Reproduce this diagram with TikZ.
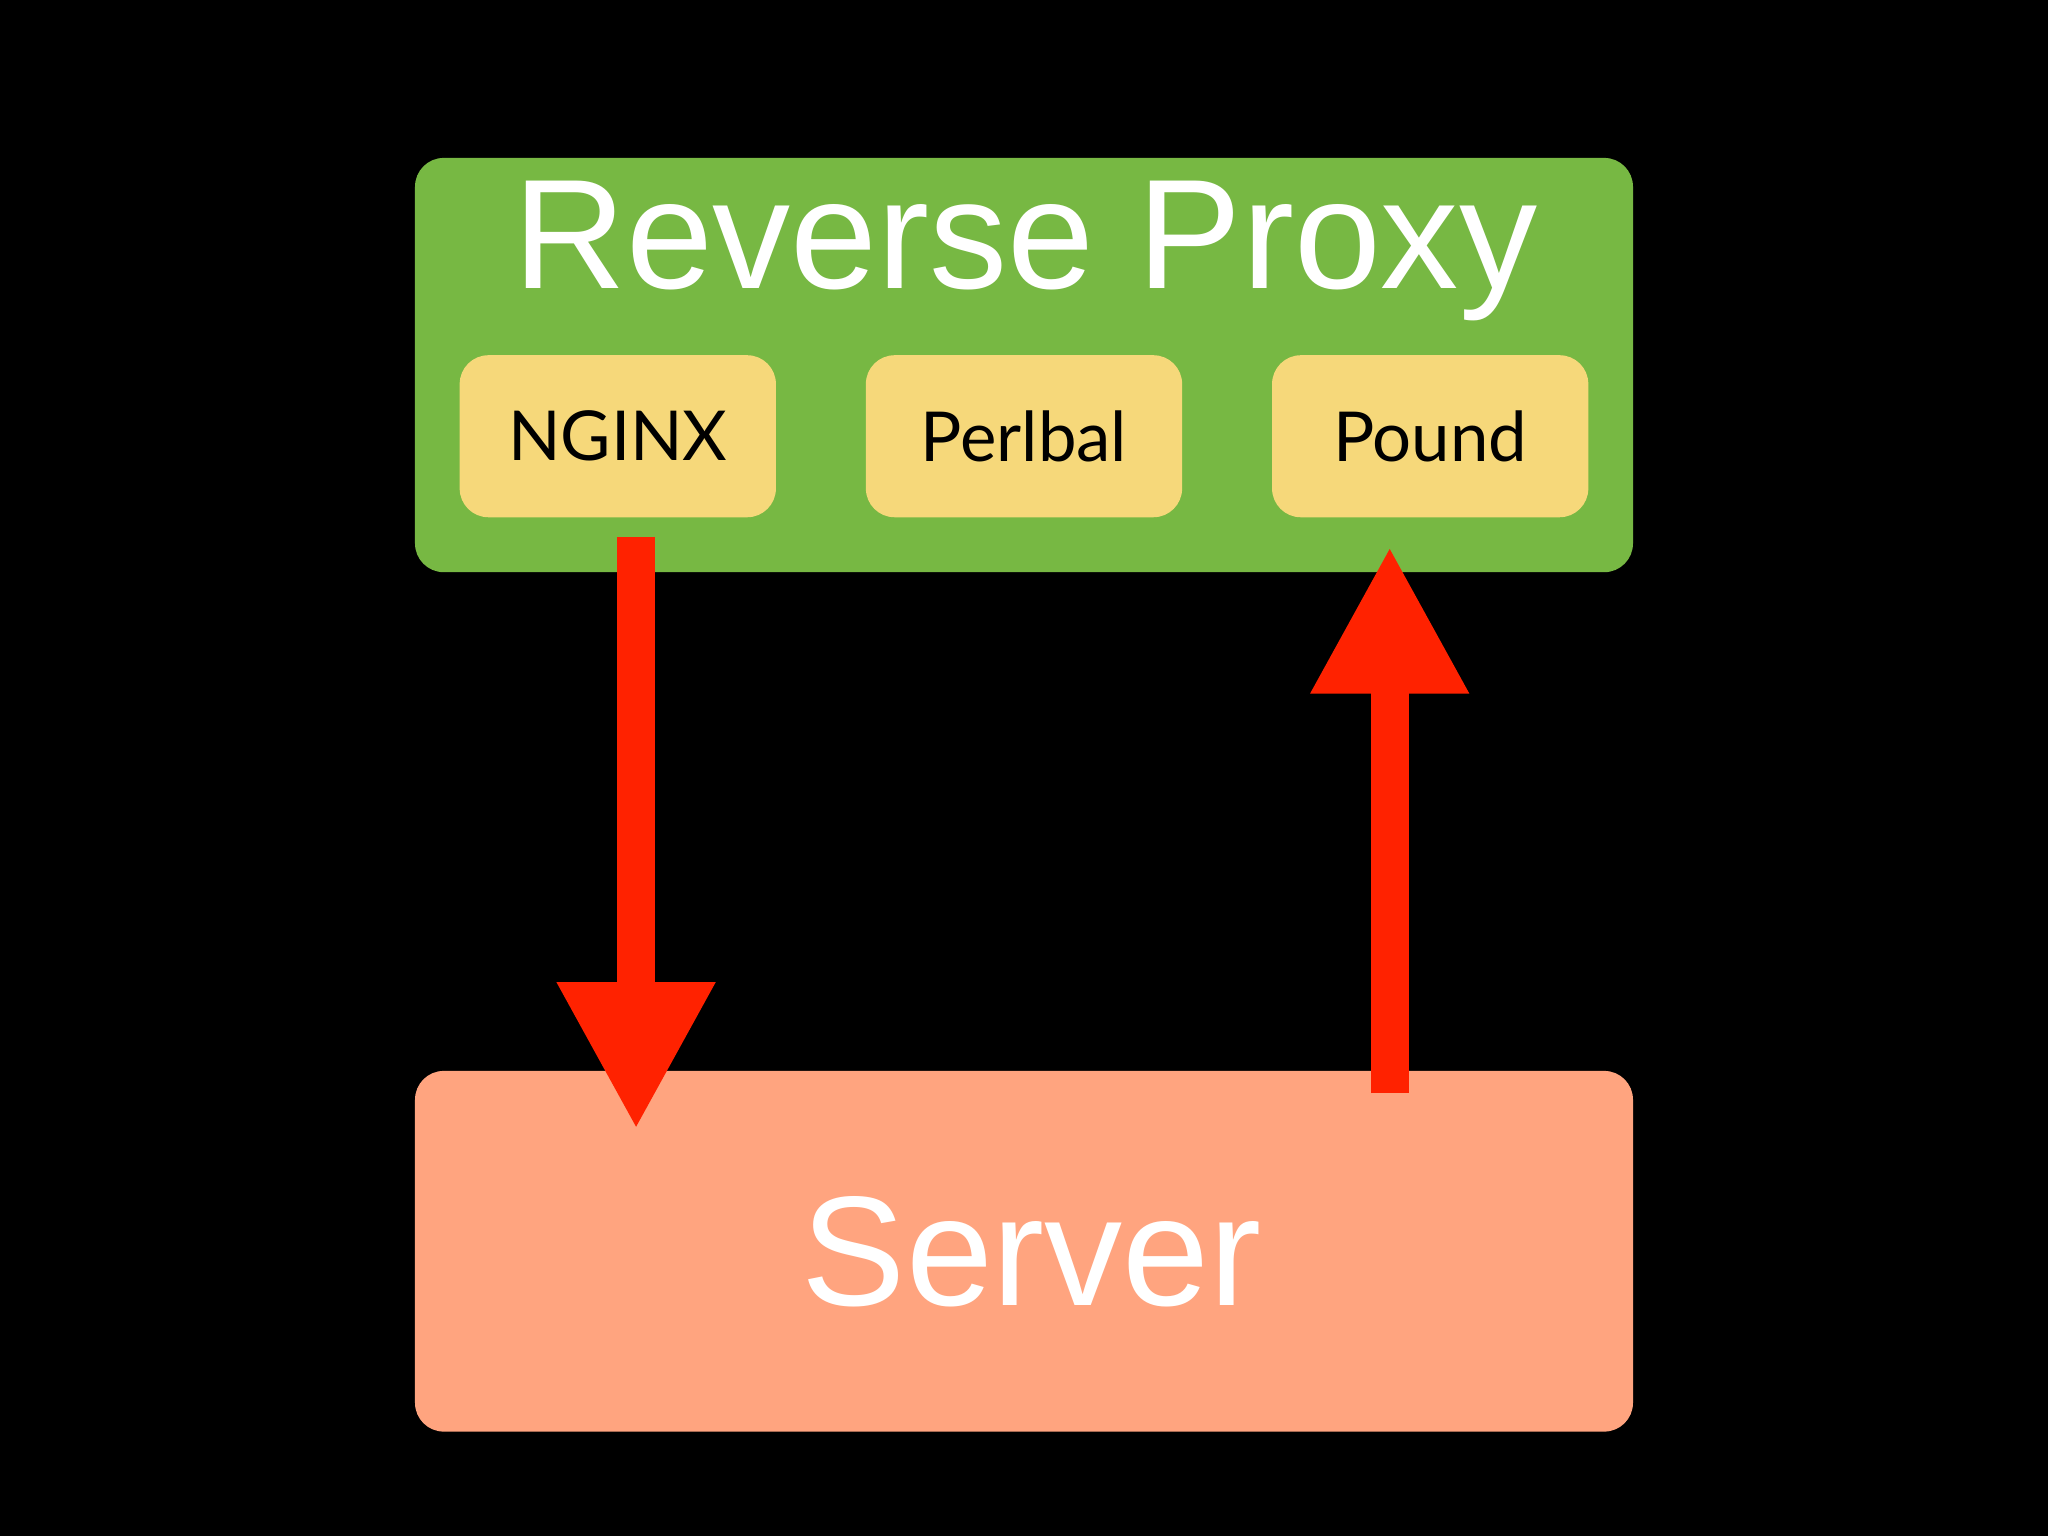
\documentclass[tikz,border=0pt]{standalone}
\usepackage{fontspec}
\setmainfont{Liberation Sans}
\newfontfamily\gill{Lato}
\usetikzlibrary{arrows.meta}
\definecolor{pgreen}{HTML}{77B843}
\definecolor{pyellow}{HTML}{F6D87A}
\definecolor{psalmon}{HTML}{FFA47F}
\definecolor{pred}{HTML}{FF2200}
\begin{document}
\begin{tikzpicture}[x=0.01cm,y=-0.01cm,
  box/.style={draw=none,rounded corners=0.22cm,inner sep=0pt},
  sub/.style={box,fill=pyellow,minimum width=2.42cm,minimum height=1.24cm,font=\gill\fontsize{15}{18}\selectfont,text=black},
  arr/.style={draw=pred,line width=0.29cm,-{Triangle[length=1.13cm,width=1.13cm]}}]
\fill[black] (0,0) rectangle (1568,1176);
\useasboundingbox (0,0) rectangle (1568,1176);
\node[box,fill=pgreen,minimum width=9.32cm,minimum height=3.17cm] (rp) at (784,279.5) {};
\node[text=white,font=\fontsize{34}{40}\selectfont] (title) at (785,192) {Reverse Proxy};
\node[sub] (nginx) at (473,334) {NGINX};
\node[sub] (perlbal) at (784,334) {Perlbal};
\node[sub] (pound) at (1095,334) {Pound};
\node[box,fill=psalmon,minimum width=9.32cm,minimum height=2.76cm] (server) at (784,958) {};
\node[text=white,font=\fontsize{34}{40}\selectfont] (stext) at (790,958) {Server};
\coordinate (a1) at (487,411);
\coordinate (a2) at (487,865);
\coordinate (b1) at (1064,837);
\coordinate (b2) at (1064,418);
\draw[arr] (a1) -- (a2);
\draw[arr] (b1) -- (b2);
\end{tikzpicture}
\end{document}
